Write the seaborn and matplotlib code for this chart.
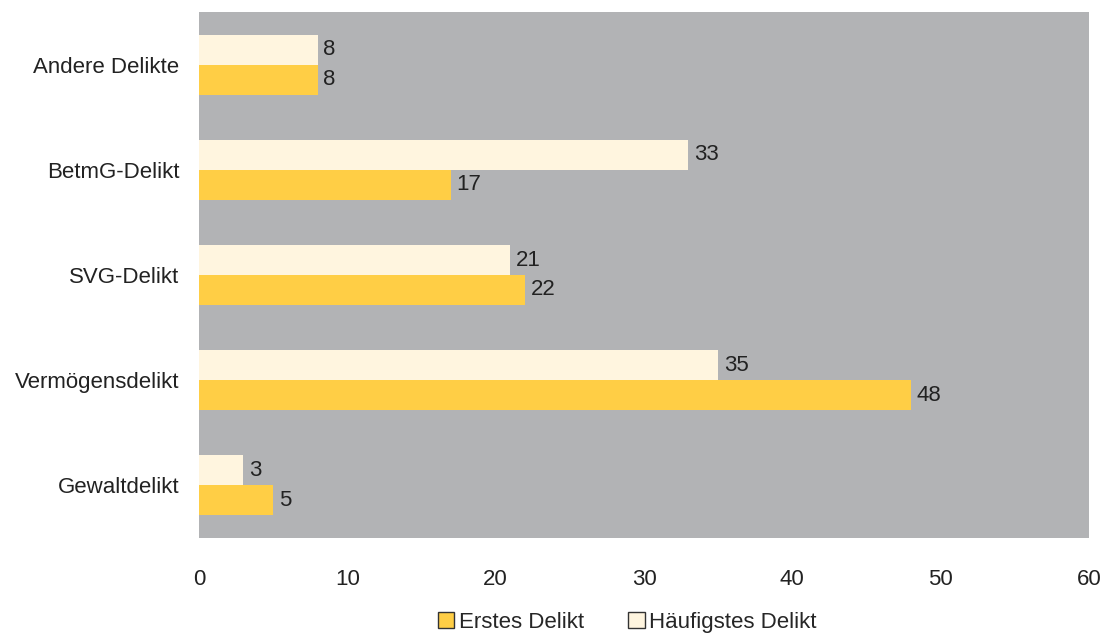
import pandas as pd
from matplotlib import pyplot as plt
from matplotlib.patches import Patch
import seaborn as sns

categories = ['Andere Delikte', 'BetmG-Delikt', 'SVG-Delikt', 'Vermögensdelikt', 'Gewaltdelikt']
erstes = [8, 17, 22, 48, 5]
haeufigstes = [8, 33, 21, 35, 3]
series = ['Häufigstes Delikt', 'Erstes Delikt']
colors = {'Erstes Delikt': '#FFCE45', 'Häufigstes Delikt': '#FFF5DF'}

df = pd.DataFrame({
    'Delikt': categories * 2,
    'Wert': haeufigstes + erstes,
    'Serie': [series[0]] * len(categories) + [series[1]] * len(categories),
})

sns.set_style('white')
plt.rcParams['font.family'] = ['Liberation Sans', 'DejaVu Sans']

fig = plt.figure(figsize=(11.16, 6.34), dpi=100)
ax = fig.add_axes([0.1783, 0.1514, 0.7975, 0.8297])
ax.set_facecolor('#B2B3B5')

sns.barplot(data=df, x='Wert', y='Delikt', hue='Serie', hue_order=series,
            order=categories, palette=colors, width=0.57, saturation=1,
            orient='h', ax=ax, legend=False, linewidth=0)

for c in ax.containers:
    ax.bar_label(c, padding=4, fontsize=16, color='#222222')

ax.set_xlim(0, 60)
ax.set_xticks(range(0, 61, 10))
ax.set_xlabel('')
ax.set_ylabel('')
ax.tick_params(axis='both', labelsize=16, length=0, colors='#222222')
ax.tick_params(axis='x', pad=22)
ax.tick_params(axis='y', pad=14)
for s in ax.spines.values():
    s.set_visible(False)

handles = [Patch(facecolor=colors['Erstes Delikt'], edgecolor='#333333', label='Erstes Delikt'),
           Patch(facecolor=colors['Häufigstes Delikt'], edgecolor='#333333', label='Häufigstes Delikt')]
fig.legend(handles=handles, loc='center', bbox_to_anchor=(0.562, 0.018), ncol=2,
           frameon=False, fontsize=16, handlelength=0.75, handleheight=0.75,
           handletextpad=0.2, columnspacing=2.0)

plt.savefig('out.png')
